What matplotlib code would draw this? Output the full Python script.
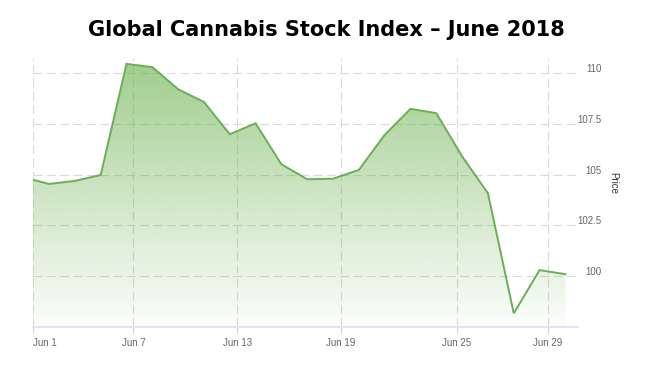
import numpy as np
import matplotlib
matplotlib.use("Agg")
import matplotlib.pyplot as plt
import matplotlib.transforms as mtransforms

# trading days (index 0 = Jun 1), first point is May 31 (clipped at left edge)
days = ["May 31", "Jun 1", "Jun 4", "Jun 5", "Jun 6", "Jun 7", "Jun 8",
        "Jun 11", "Jun 12", "Jun 13", "Jun 14", "Jun 15",
        "Jun 18", "Jun 19", "Jun 20", "Jun 21", "Jun 22",
        "Jun 25", "Jun 26", "Jun 27", "Jun 28", "Jun 29"]
price = [104.87, 104.54, 104.69, 104.98, 110.46, 110.30, 109.21,
         108.58, 106.99, 107.53, 105.51, 104.77,
         104.80, 105.23, 106.96, 108.24, 108.03,
         105.90, 104.08, 98.16, 100.29, 100.09]

tick_labels = ["Jun 1", "Jun 7", "Jun 13", "Jun 19", "Jun 25", "Jun 29"]
tick_pos = [-0.61, 3.27, 7.29, 11.31, 15.79, 19.31]   # ordinal axis positions
y_ticks = [100, 102.5, 105, 107.5, 110]

x = np.arange(len(price)) - 1.0
y = np.array(price)

W, H = 653, 380
fig = plt.figure(figsize=(W / 100, H / 100), dpi=100)
ax = fig.add_axes([33.3 / W, 1 - 326.7 / H, (578.3 - 33.3) / W, (326.7 - 58) / H])

x_min, x_max = -0.61, 20.5
y_min, y_max = 97.5, 110.75
ax.set_xlim(x_min, x_max)
ax.set_ylim(y_min, y_max)

line_col = "#6aae55"

# gradient fill under the line
poly = ax.fill_between(x, y, y_min, color="none", lw=0)
grad = np.zeros((256, 1, 4))
base = np.array([106, 176, 76]) / 255.0
grad[:, 0, :3] = base
grad[:, 0, 3] = np.linspace(0.64, 0.02, 256)
img = ax.imshow(grad, extent=[x_min, x_max, y_min, y_max], aspect="auto",
                origin="upper", zorder=1, interpolation="bilinear")
path = poly.get_paths()[0]
img.set_clip_path(path, transform=ax.transData)

ax.plot(x, y, color=line_col, lw=1.4, zorder=3, solid_joinstyle="miter")

# grid
grid_col = "#d9d9d9"
ax.set_xticks(tick_pos)
ax.set_xticklabels(tick_labels)
ax.set_yticks(y_ticks)
ax.set_yticklabels(["100", "102.5", "105", "107.5", "110"])
ax.grid(True, color=grid_col, lw=0.8, linestyle=(0, (8, 4)), zorder=0)
ax.set_axisbelow(True)

for s in ["top", "left", "right"]:
    ax.spines[s].set_visible(False)
ax.spines["bottom"].set_color("#dcdff0")
ax.spines["bottom"].set_linewidth(1.2)

ax.yaxis.tick_right()
ax.tick_params(axis="y", length=0, pad=16.5, labelsize=7, labelcolor="#666666")
ax.tick_params(axis="x", length=4, color="#d0d0d0", width=0.8, pad=4,
               labelsize=7, labelcolor="#666666")
for lab in ax.get_yticklabels():
    lab.set_horizontalalignment("right")
    lab.set_transform(lab.get_transform() +
                      mtransforms.ScaledTranslation(0, 5 / 100, fig.dpi_scale_trans))
xl = ax.get_xticklabels()
xl[0].set_horizontalalignment("left")

for lab in ax.get_xticklabels() + ax.get_yticklabels():
    lab.set_family("Liberation Sans")

fig.text(613 / W, 1 - 183 / H, "Price", rotation=270, ha="center", va="center",
         fontsize=7, color="#333333", family="Liberation Sans")

fig.text(0.5, 1 - 30.5 / H, "Global Cannabis Stock Index \u2013 June 2018",
         ha="center", va="center", fontsize=15, fontweight="bold",
         family="DejaVu Sans", color="black")

fig.savefig("out.png", dpi=100)
